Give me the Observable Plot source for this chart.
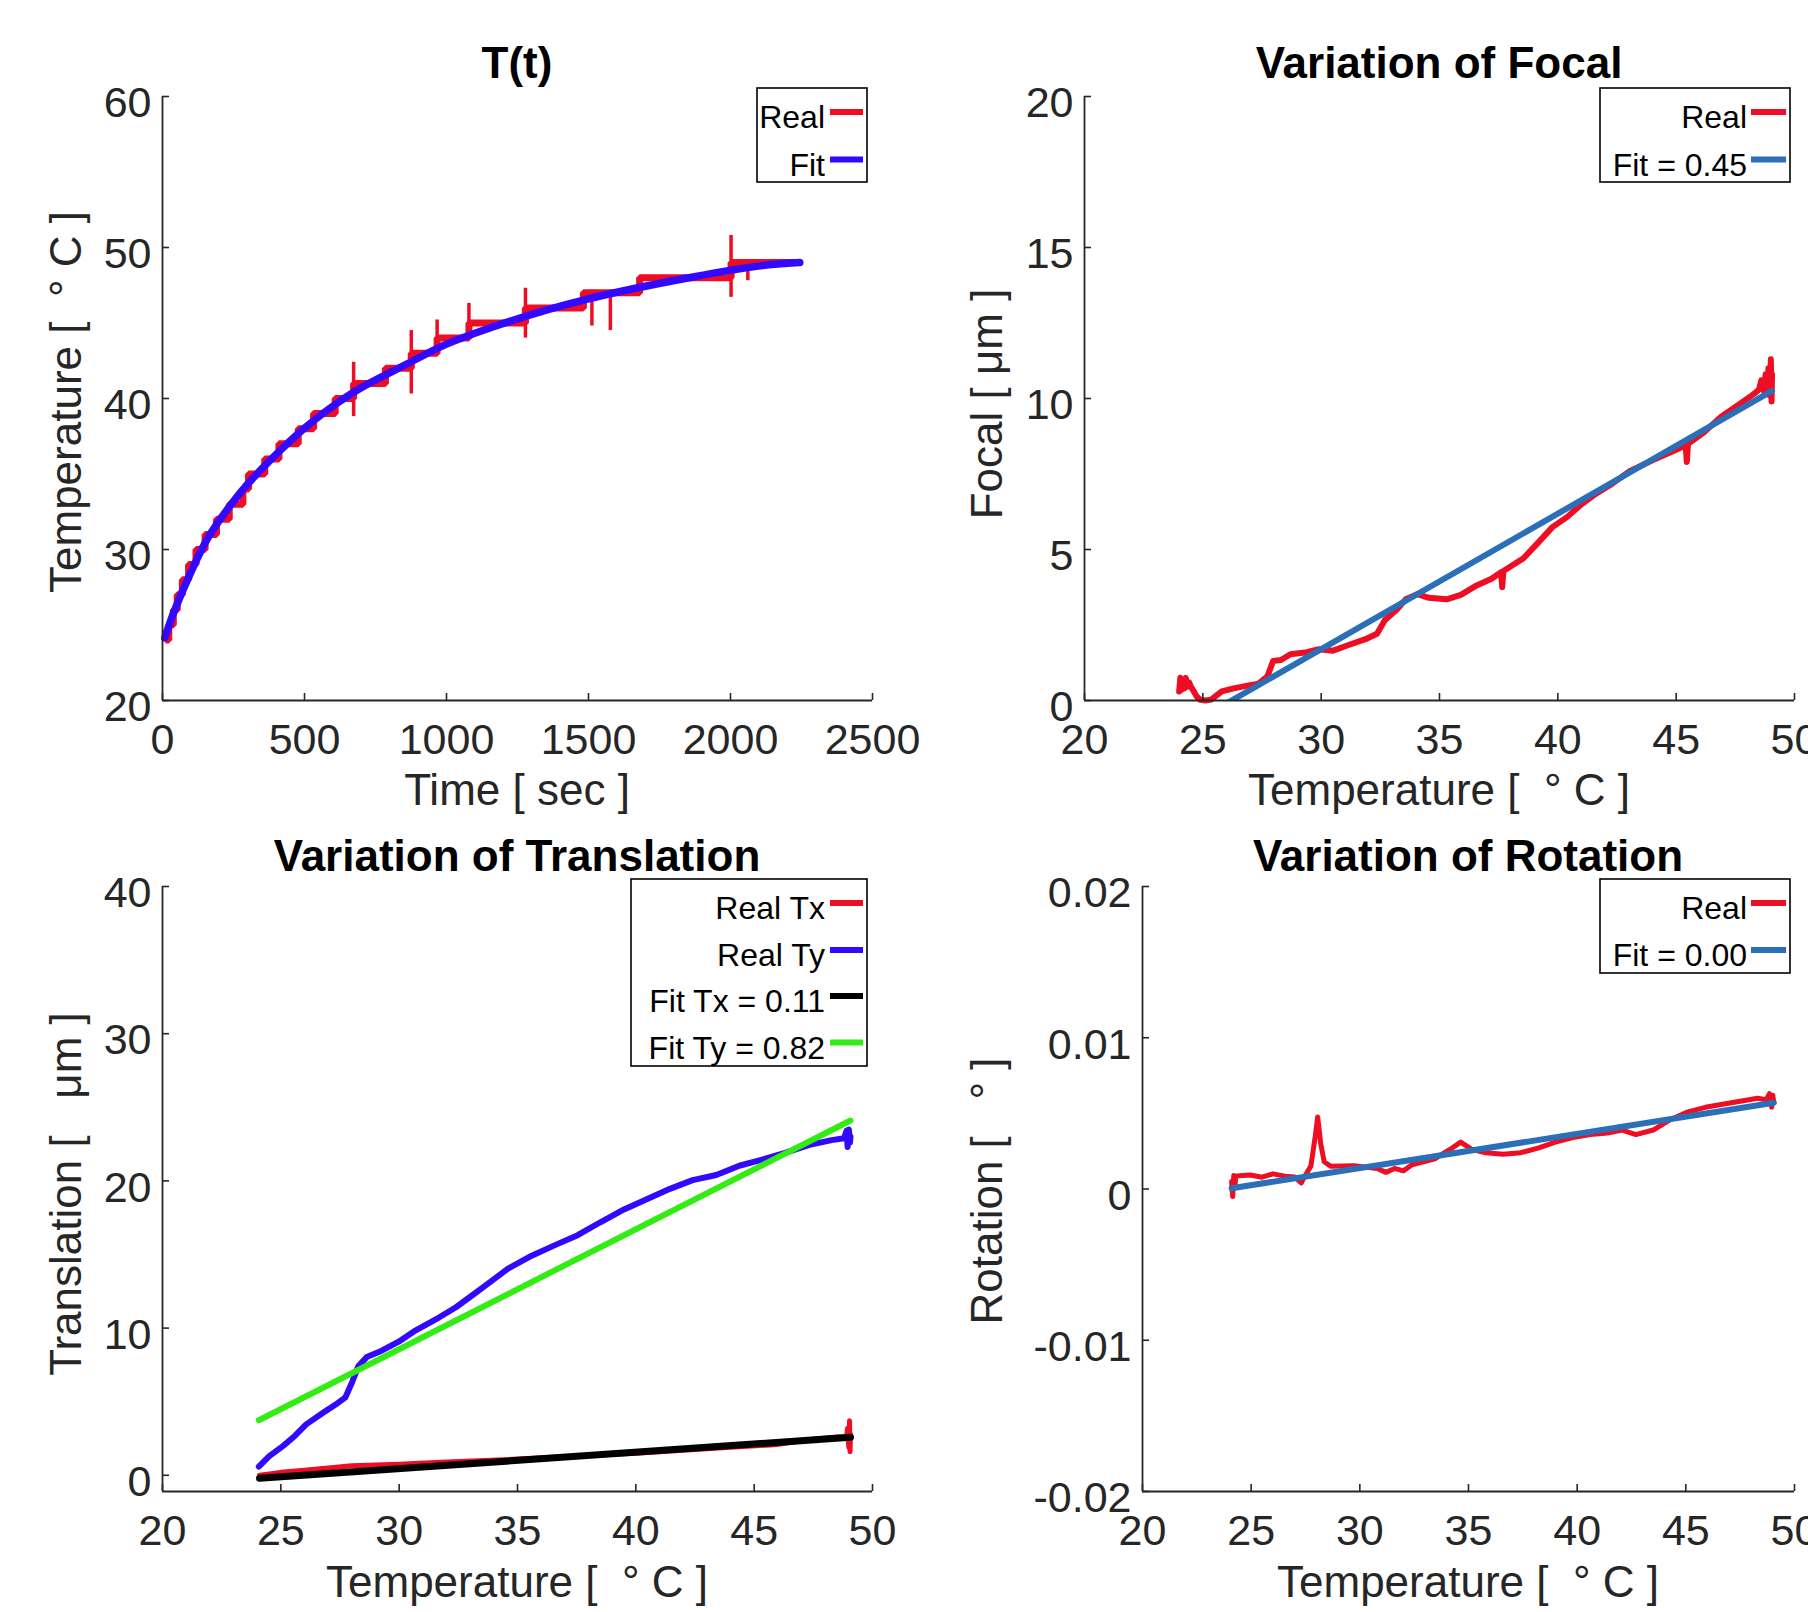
<!DOCTYPE html>
<html>
<head>
<meta charset="utf-8">
<script src="https://cdn.jsdelivr.net/npm/d3@7"></script>
<script src="https://cdn.jsdelivr.net/npm/@observablehq/plot@0.6"></script>
<style>
  html, body { margin: 0; padding: 0; background: #fff; }
  #root { position: relative; width: 1808px; height: 1612px; overflow: hidden; background: #fff; }
  #root svg { position: absolute; }
</style>
</head>
<body>
<div id="root"></div>
<script>
// ---------------- DATA ----------------
const timeTicks = [0, 500, 1000, 1500, 2000, 2500];
const tempTicks = [20, 30, 40, 50, 60];
const tempAxisTicks = [20, 25, 30, 35, 40, 45, 50];
const focalTicks = [0, 5, 10, 15, 20];
const transTicks = [0, 10, 20, 30, 40];
const rotTicks = [-0.02, -0.01, 0, 0.01, 0.02];

// T(t): measured temperature (integer steps) [time s, temp °C]
const tempReal = [
  [10,24],[22,24],[22,25],[38,25],[38,26],[52,26],[52,27],[70,27],[70,28],[92,28],[92,29],
  [118,29],[118,30],[150,30],[150,31],[190,31],[190,32],[235,32],[235,33],[283,33],[283,34],
  [303,34],[303,35],[360,35],[360,36],[410,36],[410,37],[478,37],[478,38],[532,38],[532,39],
  [608,39],[608,40],[673,40],[673,41],[785,41],[785,42],[876,42],[876,43],[967,43],[967,44],
  [1079,44],[1079,45],[1278,45],[1278,46],[1482,46],[1482,47],[1680,47],[1680,48],
  [2002,48],[2002,49],[2240,49]
];
// T(t): short glitches of the measured signal [time s, low °C, high °C]
const tempGlitch = [
  [673,38.8,42.4],[876,40.3,44.5],[967,43.0,45.2],[1079,44.5,46.3],[1278,44.0,47.3],
  [1512,44.8,47.0],[1577,44.5,47.0],[2002,46.7,50.8],[2061,47.8,49.0]
];
// T(t): fitted curve
const tempFit = [
  [8,24.15],[39,25.8],[100,28.5],[161,30.8],[242,33.0],[303,34.4],[384,36.0],[498,38.0],
  [608,39.6],[689,40.6],[852,42.2],[1000,43.6],[1157,44.7],[1360,45.9],[1500,46.6],
  [1665,47.3],[1868,48.05],[2002,48.5],[2112,48.8],[2244,49.0]
];

// Focal vs temperature [temp °C, focal µm]
const focalReal = [
  [24.0,0.3],[24.05,0.75],[24.1,0.35],[24.16,0.7],[24.22,0.4],[24.28,0.75],[24.34,0.45],
  [24.42,0.6],[24.5,0.45],[24.62,0.3],[24.75,0.12],[24.9,0.02],[25.1,0.0],[25.35,0.03],
  [25.8,0.3],[26.3,0.4],[27.0,0.51],[27.36,0.56],[27.73,0.8],[27.97,1.31],[28.3,1.34],
  [28.7,1.53],[29.4,1.6],[29.9,1.7],[30.5,1.65],[31.1,1.82],[31.87,2.03],[32.36,2.21],
  [32.7,2.67],[33.2,3.01],[33.57,3.35],[34.06,3.52],[34.55,3.4],[35.3,3.35],[35.9,3.5],
  [36.5,3.78],[37.2,4.03],[37.6,4.25],[37.65,3.75],[37.7,4.29],[38.55,4.71],[39.16,5.22],
  [39.77,5.74],[40.4,6.08],[41.0,6.5],[41.6,6.84],[42.3,7.18],[43.05,7.6],[44.0,7.95],
  [45.0,8.3],[45.4,8.45],[45.45,7.9],[45.5,8.5],[46.2,8.9],[46.9,9.4],[47.7,9.83],
  [48.3,10.16],[48.5,10.3],[48.6,10.6],[48.7,10.25],[48.78,10.8],[48.84,10.3],[48.9,11.0],
  [48.95,10.1],[49.0,11.3],[49.03,9.9],[49.05,10.8]
];
const focalFit = [[24.1,-0.95],[49.05,10.25]];

// Translation vs temperature [temp °C, µm]
const transTx = [
  [24.1,0.0],[25.0,0.2],[26.0,0.35],[27.0,0.5],[28.0,0.65],[29.0,0.7],[30.0,0.75],
  [32.0,0.9],[35.0,1.1],[38.0,1.35],[40.0,1.5],[42.0,1.7],[44.0,1.9],[46.0,2.1],
  [47.5,2.45],[48.5,2.6],[48.9,2.6],[48.95,3.2],[49.0,1.9],[49.03,3.7],[49.05,1.6],[49.07,2.8]
];
const transTy = [
  [24.07,0.59],[24.5,1.29],[25.1,2.0],[25.6,2.69],[26.07,3.46],[26.8,4.26],[27.3,4.79],
  [27.73,5.3],[28.02,6.36],[28.27,7.4],[28.63,8.03],[29.24,8.45],[29.98,9.08],[30.7,9.85],
  [31.68,10.72],[32.4,11.42],[33.15,12.3],[33.88,13.17],[34.6,14.04],[35.6,14.92],
  [36.56,15.62],[37.54,16.31],[38.5,17.19],[39.5,18.06],[40.46,18.76],[41.44,19.46],
  [42.4,20.05],[43.4,20.4],[44.37,21.03],[45.34,21.45],[46.3,21.9],[47.3,22.43],
  [48.27,22.77],[48.8,22.9],[48.9,23.4],[48.95,22.3],[49.0,23.5],[49.05,22.6],[49.07,23.0]
];
const transFitTx = [[24.1,-0.2],[49.07,2.58]];
const transFitTy = [[24.07,3.74],[49.07,24.1]];

// Rotation vs temperature [temp °C, °]
const rotReal = [
  [24.1,0.0005],[24.15,-0.0005],[24.2,0.0009],[24.25,0.0002],[24.3,0.00085],[24.6,0.0009],
  [24.96,0.00092],[25.5,0.00078],[26.0,0.001],[26.55,0.00085],[27.0,0.0008],[27.3,0.0004],
  [27.45,0.0008],[27.75,0.00153],[27.95,0.0035],[28.06,0.00476],[28.2,0.003],[28.36,0.0018],
  [28.67,0.0015],[29.73,0.00153],[30.8,0.00136],[31.2,0.0011],[31.6,0.00136],[32.0,0.0012],
  [32.4,0.0016],[33.45,0.002],[34.24,0.0027],[34.64,0.0031],[35.17,0.0026],[35.8,0.0024],
  [36.6,0.0023],[37.4,0.0024],[38.2,0.0027],[39.0,0.0031],[39.8,0.0034],[40.6,0.0036],
  [41.4,0.0037],[42.07,0.0039],[42.7,0.0036],[43.5,0.0039],[44.3,0.0046],[45.1,0.0051],
  [45.9,0.0054],[46.7,0.0056],[47.5,0.0058],[48.3,0.006],[48.7,0.0059],[48.85,0.0063],
  [48.95,0.0054],[49.0,0.0062],[49.05,0.0057]
];
const rotFit = [[24.1,0.00005],[49.05,0.0057]];

// text
const titles = ["T(t)", "Variation of Focal", "Variation of Translation", "Variation of Rotation"];
const xLabels = ["Time [ sec ]", "Temperature [  ° C ]", "Temperature [  ° C ]", "Temperature [  ° C ]"];
const yLabels = ["Temperature [  ° C ]", "Focal [ μm ]", "Translation [   μm ]", "Rotation [   ° ]"];
const legend1 = ["Real", "Fit"];
const legend2 = ["Real", "Fit = 0.45"];
const legend3 = ["Real Tx", "Real Ty", "Fit Tx = 0.11", "Fit Ty = 0.82"];
const legend4 = ["Real", "Fit = 0.00"];

// ---------------- STYLE ----------------
const FONT = "'Liberation Sans', Arial, Helvetica, sans-serif";
const AX = "#262626";
const RED = "#ee0d22";
const BLUE = "#3308ff";
const MBLUE = "#2a6fb8";
const GREEN = "#33ec14";
const BLACK = "#000000";

const root = document.getElementById("root");
const fmt = d => String(d);

function panel(p) {
  const ml = 160, mr = 60, mt = 20, mb = 90;
  const chart = Plot.plot({
    width: p.fw + ml + mr, height: p.fh + mt + mb,
    marginLeft: ml, marginRight: mr, marginTop: mt, marginBottom: mb,
    style: {fontFamily: FONT, fontSize: "42px", color: AX, background: "transparent", overflow: "visible"},
    x: {domain: p.xd},
    y: {domain: p.yd},
    marks: [
      ...p.marks,
      Plot.axisX({ticks: p.xt, tickFormat: fmt, tickSize: 0, tickPadding: 23, fontSize: 43, label: null}),
      Plot.axisY({ticks: p.yt, tickFormat: fmt, tickSize: 0, tickPadding: 11, fontSize: 43, label: null, dy: 7}),
      Plot.tickX(p.xt, {x: d => d, insetTop: p.fh - 7, stroke: AX, strokeWidth: 1.6}),
      Plot.tickY(p.yt, {y: d => d, insetRight: p.fw - 7, stroke: AX, strokeWidth: 1.6}),
      Plot.ruleX([p.xd[0]], {stroke: AX, strokeWidth: 1.8}),
      Plot.ruleY([p.yd[0]], {stroke: AX, strokeWidth: 1.8})
    ]
  });
  chart.style.left = (p.left - ml) + "px";
  chart.style.top = (p.top - mt) + "px";
  root.appendChild(chart);
}

const L = (data, stroke, w, extra = {}) =>
  Plot.line(data, {x: d => d[0], y: d => d[1], stroke, strokeWidth: w, ...extra});

panel({left: 162, top: 96, fw: 710, fh: 604, xd: [0, 2500], yd: [20, 60], xt: timeTicks, yt: tempTicks,
  marks: [
    L(tempReal, RED, 7, {strokeLinejoin: "miter", strokeLinecap: "butt"}),
    Plot.ruleX(tempGlitch, {x: d => d[0], y1: d => d[1], y2: d => d[2], stroke: RED, strokeWidth: 3.5}),
    L(tempFit, BLUE, 7.5, {curve: "catmull-rom"})
  ]});
panel({left: 1084, top: 96, fw: 710, fh: 604, xd: [20, 50], yd: [0, 20], xt: tempAxisTicks, yt: focalTicks,
  marks: [L(focalReal, RED, 6), L(focalFit, MBLUE, 6, {clip: true})]});
panel({left: 162, top: 886, fw: 710, fh: 605, xd: [20, 50], yd: [-1.1, 40], xt: tempAxisTicks, yt: transTicks,
  marks: [L(transTx, RED, 5), L(transTy, BLUE, 6), L(transFitTx, BLACK, 7), L(transFitTy, GREEN, 6)]});
panel({left: 1142, top: 886, fw: 652, fh: 605, xd: [20, 50], yd: [-0.02, 0.02], xt: tempAxisTicks, yt: rotTicks,
  marks: [L(rotReal, RED, 5), L(rotFit, MBLUE, 6)]});

// ---------------- OVERLAY: titles, labels, legends ----------------
const ov = d3.select(root).append("svg")
  .attr("width", 1808).attr("height", 1612)
  .style("left", "0px").style("top", "0px")
  .style("font-family", FONT);

const titlePos = [[517, 78], [1439, 78], [517, 871], [1468, 871]];
titles.forEach((t, i) => ov.append("text").attr("x", titlePos[i][0]).attr("y", titlePos[i][1])
  .attr("text-anchor", "middle").attr("font-size", 44).attr("font-weight", "bold").attr("fill", "#000")
  .style("white-space", "pre").text(t));

const xlPos = [[517, 805], [1439, 805], [517, 1597], [1468, 1597]];
xLabels.forEach((t, i) => ov.append("text").attr("x", xlPos[i][0]).attr("y", xlPos[i][1])
  .attr("text-anchor", "middle").attr("font-size", 44).attr("fill", AX)
  .style("white-space", "pre").text(t));

const ylPos = [[81, 402], [1002, 404], [81, 1194], [1002, 1191]];
yLabels.forEach((t, i) => ov.append("text")
  .attr("transform", `translate(${ylPos[i][0]},${ylPos[i][1]}) rotate(-90)`)
  .attr("text-anchor", "middle").attr("font-size", 44).attr("fill", AX)
  .style("white-space", "pre").text(t));

function legend(box, labels, colors, textRight, lineX, rowY) {
  ov.append("rect").attr("x", box[0]).attr("y", box[1]).attr("width", box[2] - box[0]).attr("height", box[3] - box[1])
    .attr("fill", "#fff").attr("stroke", "#000").attr("stroke-width", 1.6);
  labels.forEach((t, i) => {
    ov.append("text").attr("x", textRight).attr("y", rowY[i] + 16).attr("text-anchor", "end")
      .attr("font-size", 32).attr("fill", "#000").style("white-space", "pre").text(t);
    ov.append("line").attr("x1", lineX[0]).attr("x2", lineX[1]).attr("y1", rowY[i]).attr("y2", rowY[i])
      .attr("stroke", colors[i]).attr("stroke-width", 6);
  });
}
legend([757, 88, 867, 182], legend1, [RED, BLUE], 825, [830, 863], [112, 159.5]);
legend([1600, 88, 1790, 182], legend2, [RED, MBLUE], 1747, [1751, 1786], [112, 159.5]);
legend([631, 879, 867, 1066], legend3, [RED, BLUE, BLACK, GREEN], 825, [830, 863], [903, 950, 996, 1042.5]);
legend([1600, 879, 1790, 973], legend4, [RED, MBLUE], 1747, [1751, 1786], [903, 950]);
</script>
</body>
</html>
